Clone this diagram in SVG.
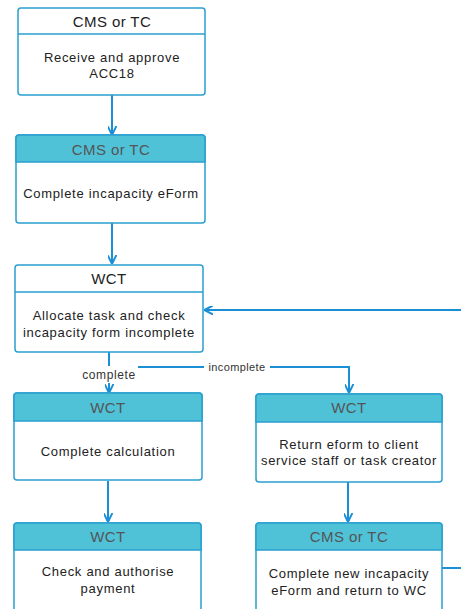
<svg xmlns="http://www.w3.org/2000/svg" width="461" height="609" viewBox="0 0 461 609">
<defs>
<marker id="ah" viewBox="0 0 10 10" refX="9" refY="5" markerWidth="9" markerHeight="9" markerUnits="userSpaceOnUse" orient="auto">
<path d="M0,0 L10,5 L0,10" fill="none" stroke="#1a8fd6" stroke-width="2.2"/>
</marker>
<style>
.box{fill:#fff;stroke:#2a9fd0;stroke-width:1.5}
.hw{fill:#fff;stroke:#2a9fd0;stroke-width:1.5}
.ht{fill:#4fc2d8;stroke:#2a9fd0;stroke-width:1.5}
.h{font-family:"Liberation Sans",Arial,sans-serif;font-size:15px;letter-spacing:0.4px;text-anchor:middle}
.hd{fill:#555}
.hk{fill:#222}
.b{font-family:"Liberation Sans",Arial,sans-serif;font-size:13px;letter-spacing:0.7px;fill:#222;text-anchor:middle}
.c{fill:none;stroke:#1a8fd6;stroke-width:2}
.l{font-family:"Liberation Sans",Arial,sans-serif;fill:#333;text-anchor:middle}
</style>
</defs>
<g id="connectors">
<line class="c" x1="112" y1="95" x2="112" y2="134" marker-end="url(#ah)"/>
<line class="c" x1="112" y1="223" x2="112" y2="263" marker-end="url(#ah)"/>
<line class="c" x1="461" y1="310" x2="205" y2="310" marker-end="url(#ah)"/>
<line class="c" x1="109" y1="352" x2="109" y2="392" marker-end="url(#ah)"/>
<polyline class="c" points="109,367 349,367 349,392" marker-end="url(#ah)"/>
<line class="c" x1="108" y1="481" x2="108" y2="521" marker-end="url(#ah)"/>
<line class="c" x1="348" y1="482" x2="348" y2="521" marker-end="url(#ah)"/>
<line class="c" x1="442" y1="568" x2="461" y2="568"/>
<rect x="80" y="366" width="58" height="17" fill="#fff"/>
<text class="l" x="109" y="379" font-size="12" letter-spacing="0.6">complete</text>
<rect x="204" y="361" width="66" height="12" fill="#fff"/>
<text class="l" x="237" y="371" font-size="11" letter-spacing="0.4">incomplete</text>
</g>
<g id="n1">
<rect class="box" x="18" y="8" width="187" height="87" rx="3"/>
<path class="hw" d="M18,34 L205,34"/>
<text class="h hk" x="112" y="26.5">CMS or TC</text>
<text class="b" x="112" y="62">Receive and approve</text>
<text class="b" x="112" y="78">ACC18</text>
</g>
<g id="n2">
<rect class="box" x="16" y="135" width="189" height="88" rx="3"/>
<path class="ht" d="M16,162 L16,138 Q16,135 19,135 L202,135 Q205,135 205,138 L205,162 Z"/>
<text class="h hd" x="111" y="154.5">CMS or TC</text>
<text class="b" x="111" y="198">Complete incapacity eForm</text>
</g>
<g id="n3">
<rect class="box" x="15" y="265" width="188" height="87" rx="3"/>
<path class="hw" d="M15,292 L203,292"/>
<text class="h hk" x="109" y="283.5">WCT</text>
<text class="b" x="109" y="320">Allocate task and check</text>
<text class="b" x="109" y="337">incapacity form incomplete</text>
</g>
<g id="n4">
<rect class="box" x="14" y="393" width="188" height="87" rx="3"/>
<path class="ht" d="M14,421 L14,396 Q14,393 17,393 L199,393 Q202,393 202,396 L202,421 Z"/>
<text class="h hd" x="108" y="412.5">WCT</text>
<text class="b" x="108" y="456">Complete calculation</text>
</g>
<g id="n5">
<rect class="box" x="14" y="523" width="187" height="95" rx="3"/>
<path class="ht" d="M14,550 L14,526 Q14,523 17,523 L198,523 Q201,523 201,526 L201,550 Z"/>
<text class="h hd" x="108" y="541.5">WCT</text>
<text class="b" x="108" y="576">Check and authorise</text>
<text class="b" x="108" y="593">payment</text>
</g>
<g id="n6">
<rect class="box" x="256" y="394" width="186" height="88" rx="3"/>
<path class="ht" d="M256,422 L256,397 Q256,394 259,394 L439,394 Q442,394 442,397 L442,422 Z"/>
<text class="h hd" x="349" y="412.5">WCT</text>
<text class="b" x="349" y="449">Return eform to client</text>
<text class="b" x="349" y="465">service staff or task creator</text>
</g>
<g id="n7">
<rect class="box" x="256" y="523" width="186" height="95" rx="3"/>
<path class="ht" d="M256,550 L256,526 Q256,523 259,523 L439,523 Q442,523 442,526 L442,550 Z"/>
<text class="h hd" x="349" y="542">CMS or TC</text>
<text class="b" x="349" y="578">Complete new incapacity</text>
<text class="b" x="349" y="595">eForm and return to WC</text>
</g>
</svg>
